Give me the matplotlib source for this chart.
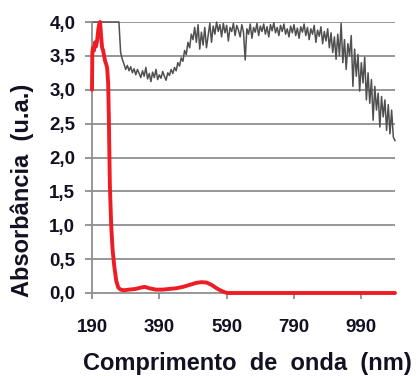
import numpy as np
import matplotlib
matplotlib.use("Agg")
import matplotlib.pyplot as plt

plt.rcParams['font.family'] = ['Liberation Sans', 'DejaVu Sans']

# grey spectrum, 5 nm steps from 190 nm
abs_gray = [
    4.0, 4.0, 4.0, 4.0, 4.0, 4.0, 4.0, 4.0, 4.0, 4.0, 4.0, 4.0, 4.0, 4.0, 4.0, 4.0, 4.0,
    3.55, 3.45, 3.38, 3.30, 3.36, 3.28, 3.34, 3.25, 3.31, 3.22, 3.30, 3.24, 3.18, 3.28,
    3.20, 3.33, 3.16, 3.24, 3.12, 3.26, 3.18, 3.30, 3.15, 3.22, 3.17, 3.27, 3.20, 3.14,
    3.25, 3.21, 3.30, 3.24, 3.33, 3.28, 3.40, 3.35, 3.47, 3.42, 3.58, 3.52, 3.70, 3.62,
    3.82, 3.74, 3.92, 3.70, 3.96, 3.60, 3.85, 3.66, 3.92, 3.62, 3.80, 3.98, 3.70, 3.94,
    3.82, 4.00, 3.86, 3.96, 3.78, 3.98, 3.84, 3.95, 3.72, 3.92, 3.86, 3.98, 3.80, 3.95,
    3.88, 3.78, 3.96, 3.85, 3.44, 3.90, 3.82, 3.97, 3.76, 3.92, 3.85, 3.98, 3.80, 3.94,
    3.86, 3.97, 3.82, 3.93, 3.78, 3.96, 3.87, 3.99, 3.84, 3.92, 3.80, 3.95, 3.86, 3.97,
    3.82, 3.90, 3.78, 3.94, 3.84, 3.96, 3.80, 3.91, 3.76, 3.93, 3.85, 3.97, 3.80, 3.92,
    3.74, 3.90, 3.82, 3.95, 3.70, 3.88, 3.79, 3.93, 3.68, 3.86, 3.72, 3.90, 3.62, 3.84,
    3.55, 3.78, 3.45, 3.82, 3.50, 3.98, 3.40, 3.74, 3.30, 3.68, 3.50, 3.80, 3.05, 3.60,
    3.20, 3.52, 2.98, 3.40, 3.10, 3.48, 2.85, 3.25, 2.80, 3.15, 2.55, 3.05, 2.70, 2.95,
    2.45, 2.90, 2.60, 2.85, 2.40, 2.78, 2.35, 2.70, 2.30, 2.25,
]
wl_gray = np.arange(len(abs_gray)) * 5 + 190

wl_red = [190, 191, 193, 196, 199, 202, 205, 209, 212, 214, 217, 220, 223, 226, 229,
          232, 235, 238, 240, 243, 247, 251, 256, 262, 268, 275, 285, 300, 320, 335,
          347, 360, 380, 400, 420, 440, 460, 480, 500, 515, 530, 545, 560, 575, 585,
          592, 700, 800, 900, 1000, 1090]
abs_red = [3.0, 3.55, 3.62, 3.58, 3.70, 3.64, 3.72, 3.90, 3.98, 4.0, 3.80, 3.62, 3.58,
           3.50, 3.42, 3.38, 3.32, 3.10, 2.60, 1.60, 1.00, 0.65, 0.40, 0.18, 0.08, 0.05,
           0.04, 0.05, 0.06, 0.08, 0.09, 0.07, 0.05, 0.05, 0.06, 0.07, 0.09, 0.12, 0.15,
           0.16, 0.155, 0.12, 0.07, 0.03, 0.01, 0.0, 0.0, 0.0, 0.0, 0.0, 0.0]

xticks = [190, 390, 590, 790, 990]
xticklabels = ['190', '390', '590', '790', '990']
yticks = [0, 0.5, 1.0, 1.5, 2.0, 2.5, 3.0, 3.5, 4.0]
yticklabels = ['0,0', '0,5', '1,0', '1,5', '2,0', '2,5', '3,0', '3,5', '4,0']

grid_c = '#8f8f8f'
text_c = '#111122'
W, H = 416, 376

fig = plt.figure(figsize=(W / 100, H / 100), dpi=100)
ax = fig.add_axes([92/W, 1 - 293/H, 303/W, 271/H])

for y in yticks[1:]:
    ax.axhline(y, color=grid_c, lw=1.3, zorder=1)

ax.plot(wl_gray, abs_gray, color='#505050', lw=1.1, zorder=2, clip_on=False)
ax.plot(wl_red, abs_red, color='#ee1c24', lw=2.8, zorder=4, clip_on=False,
        solid_joinstyle='round', solid_capstyle='round')

ax.set_xlim(190, 1090)
ax.set_ylim(0, 4)
ax.set_xticks(xticks)
ax.set_xticklabels(xticklabels)
ax.set_yticks(yticks)
ax.set_yticklabels(yticklabels)

for s in ['top', 'right']:
    ax.spines[s].set_visible(False)
for s in ['left', 'bottom']:
    ax.spines[s].set_color(grid_c)
    ax.spines[s].set_linewidth(1.3)

ax.tick_params(axis='y', length=5, width=1.3, color=grid_c, pad=7,
               labelsize=13.5, labelcolor=text_c)
ax.tick_params(axis='x', length=4, width=1.3, color=grid_c, pad=15,
               labelsize=13.5, labelcolor=text_c)
for lab in ax.get_xticklabels() + ax.get_yticklabels():
    lab.set_fontweight('bold')

fig.text(247/W, 1 - 370/H, 'Comprimento  de  onda  (nm)', fontsize=17,
         fontweight='bold', color=text_c, ha='center', va='baseline')
fig.text(22/W, 1 - 190/H, 'Absorbância  (u.a.)', fontsize=17, rotation=90,
         fontweight='bold', color=text_c, ha='center', va='center')

fig.savefig('out.png', dpi=100)
